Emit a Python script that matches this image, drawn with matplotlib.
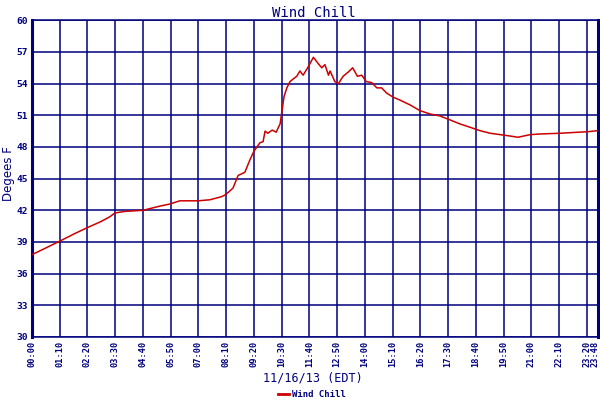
import matplotlib
matplotlib.use("Agg")
import matplotlib.pyplot as plt
import matplotlib.transforms as mtransforms
from matplotlib.lines import Line2D

# minutes after midnight, wind chill (deg F)
minutes = [0, 33, 71, 108, 139, 172, 197, 209, 235, 280, 323, 348, 373, 419, 449,
           479, 489, 507, 520, 537, 550, 560, 575, 583, 588, 595, 606, 616, 626, 631,
           636, 643, 651, 661, 668, 676, 684, 697, 710, 722, 731, 739, 748, 752, 764,
           773, 785, 798, 809, 821, 832, 843, 857, 870, 882, 895, 912, 928, 954, 979,
           1004, 1029, 1055, 1080, 1105, 1130, 1156, 1181, 1206, 1226, 1257, 1282,
           1332, 1403, 1428]
wind_chill = [37.8, 38.4, 39.1, 39.8, 40.35, 40.9, 41.4, 41.75, 41.9, 42.0, 42.4, 42.6,
              42.9, 42.9, 43.0, 43.3, 43.5, 44.1, 45.3, 45.6, 46.8, 47.6, 48.4, 48.5,
              49.5, 49.3, 49.6, 49.4, 50.2, 51.5, 52.8, 53.6, 54.2, 54.5, 54.7, 55.2,
              54.8, 55.6, 56.5, 55.9, 55.5, 55.8, 54.8, 55.2, 54.2, 54.0, 54.7, 55.1,
              55.5, 54.7, 54.8, 54.2, 54.1, 53.6, 53.6, 53.1, 52.7, 52.45, 51.98, 51.44,
              51.13, 50.94, 50.56, 50.18, 49.87, 49.55, 49.3, 49.17, 49.04, 48.92, 49.17,
              49.23, 49.3, 49.45, 49.55]

tick_minutes = [0, 70, 140, 210, 280, 350, 420, 490, 560, 630, 700, 770, 840, 910,
                980, 1050, 1120, 1190, 1260, 1330, 1400, 1428]
tick_labels = ["00:00", "01:10", "02:20", "03:30", "04:40", "05:50", "07:00", "08:10",
               "09:20", "10:30", "11:40", "12:50", "14:00", "15:10", "16:20", "17:30",
               "18:40", "19:50", "21:00", "22:10", "23:20", "23:48"]
y_ticks = [30, 33, 36, 39, 42, 45, 48, 51, 54, 57, 60]

navy = "#00007F"
red = "#CC0000"
mono = "DejaVu Sans Mono"

fig = plt.figure(figsize=(6, 4), dpi=100)
ax = fig.add_axes([32 / 600, (400 - 337) / 400, (598 - 32) / 600, (337 - 20.3) / 400])

ax.plot(minutes, wind_chill, color=red, lw=1.1, zorder=3)

ax.set_xlim(0, 1428)
ax.set_ylim(30, 60)
ax.set_xticks(tick_minutes)
ax.set_xticklabels(tick_labels, rotation=90, fontfamily=mono, fontweight="bold",
                   fontsize=6.2, color=navy)
ax.set_yticks(y_ticks)
ax.set_yticklabels([str(v) for v in y_ticks], fontfamily=mono, fontweight="bold",
                   fontsize=6.8, color=navy)
ax.tick_params(axis="both", length=0, pad=3)
ax.grid(True, color=navy, lw=1.1)
ax.set_axisbelow(True)

# nudge the last label so it stays inside the figure
last = ax.get_xticklabels()[-1]
last.set_transform(last.get_transform() +
                   mtransforms.ScaledTranslation(-3 / 100, 0, fig.dpi_scale_trans))

for side in ["top", "bottom"]:
    ax.spines[side].set_color(navy)
    ax.spines[side].set_linewidth(1.1)
for side in ["left", "right"]:
    ax.spines[side].set_color(navy)
    ax.spines[side].set_linewidth(2.2)

fig.text(0.523, 0.985, "Wind Chill", ha="center", va="top", fontfamily=mono,
         fontsize=10, color=navy)
fig.text(0.522, 0.055, "11/16/13 (EDT)", ha="center", va="center", fontfamily=mono,
         fontsize=8.5, color=navy)
fig.text(0.015, 0.565, "Degees F", rotation=90, ha="center", va="center",
         fontfamily="DejaVu Sans", fontsize=8.5, color=navy)

handle = Line2D([], [], color=red, lw=2)
fig.legend([handle], ["Wind Chill"], loc="center", bbox_to_anchor=(0.52, 0.013),
           frameon=False, handlelength=1.2, handletextpad=0.3,
           prop={"family": mono, "weight": "bold", "size": 6.5}, labelcolor=navy)

fig.savefig("out.png", dpi=100)
